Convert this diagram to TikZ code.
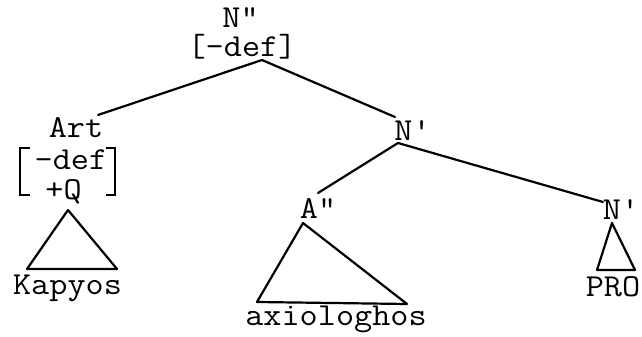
\documentclass[tikz,border=0pt]{standalone}
\usepackage{graphicx}
\newcommand{\twtext}[1]{\scalebox{1.1}[1]{#1}}
\tikzset{
  lab/.style={anchor=base, inner sep=0pt, font=\fontsize{32}{36}\selectfont\ttfamily},
  branch/.style={line width=2.2pt, line cap=round, line join=round},
  brack/.style={line width=2.4pt, line cap=butt, line join=miter}
}
\begin{document}
\begin{tikzpicture}[x=1pt,y=1pt]
\useasboundingbox (0,0) rectangle (642,337);
% labels
\node[lab] (root) at (240.5,309) {\twtext{N\textquotedbl}};
\node[lab] (rootf) at (242,280) {\twtext{[-def]}};
\node[lab] (art) at (76,199) {\twtext{Art}};
\node[lab] (artf1) at (71,167) {\twtext{-def}};
\node[lab] (artf2) at (63.5,137) {\twtext{+Q}};
\node[lab] (kap) at (67.5,42) {\twtext{Kapyos}};
\node[lab] (nbar) at (412.5,196) {\twtext{N\textquotesingle}};
\node[lab] (abar) at (318,118) {\twtext{A\textquotedbl}};
\node[lab] (axio) at (336,11) {\twtext{axiologhos}};
\node[lab] (nright) at (621,117) {\twtext{N\textquotesingle}};
\node[lab] (pro) at (613,40) {\twtext{PRO}};
% feature brackets
\draw[brack] (30,189) -- (20,189) -- (20,142) -- (30,142);
\draw[brack] (106,189) -- (115,189) -- (115,142) -- (106,142);
% connection points
\coordinate (rootj) at (262,277);
\coordinate (artj) at (98,222);
\coordinate (nbarj) at (395,220);
\coordinate (nbarb) at (398,194);
\coordinate (abarj) at (318,144);
\coordinate (nrightj) at (603,135);
% branches
\draw[branch] (rootj) -- (artj);
\draw[branch] (rootj) -- (nbarj);
\draw[branch] (nbarb) -- (abarj);
\draw[branch] (nbarb) -- (nrightj);
% triangles
\coordinate (kapt) at (68,127);
\coordinate (kapl) at (27,68);
\coordinate (kapr) at (117,68);
\draw[branch] (kapt) -- (kapl) -- (kapr) -- cycle;
\coordinate (axt) at (303,114);
\coordinate (axl) at (257,35);
\coordinate (axr) at (407,33);
\draw[branch] (axt) -- (axl) -- (axr) -- cycle;
\coordinate (prt) at (612,114);
\coordinate (prl) at (597,67);
\coordinate (prr) at (635,67);
\draw[branch] (prt) -- (prl) -- (prr) -- cycle;
\end{tikzpicture}
\end{document}
